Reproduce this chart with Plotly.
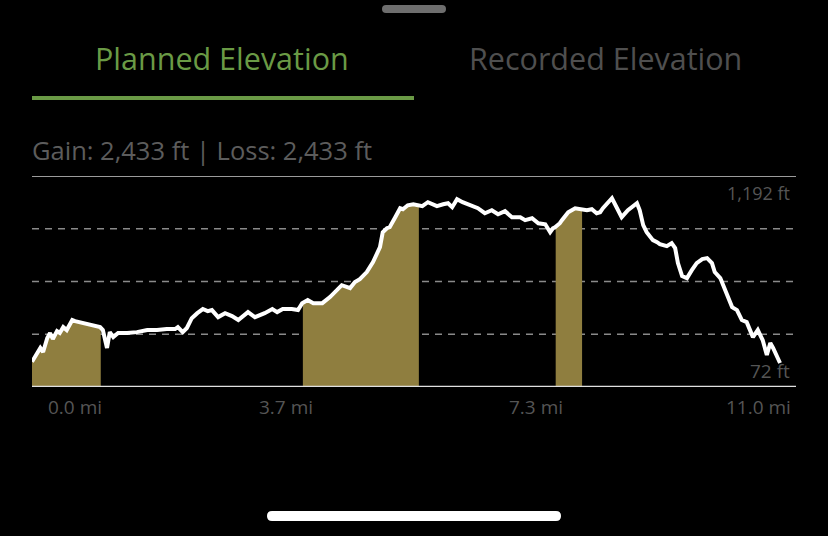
import numpy as np
import plotly.graph_objects as go

# ---------------- data ----------------
distance_mi = [
    0.00, 0.04, 0.12, 0.16, 0.22, 0.26, 0.30, 0.36, 0.40, 0.45, 0.50, 0.58, 0.62, 0.98,
    1.02, 1.08, 1.12, 1.17, 1.24, 1.37, 1.51, 1.66, 1.80, 1.94, 2.06, 2.10, 2.17, 2.23,
    2.30, 2.38, 2.46, 2.53, 2.59, 2.68, 2.78, 2.88, 2.97, 3.11, 3.21, 3.35, 3.46, 3.53,
    3.61, 3.74, 3.83, 3.89, 3.97, 4.05, 4.18, 4.29, 4.39, 4.46, 4.54, 4.58, 4.65, 4.72,
    4.82, 4.91, 5.01, 5.05, 5.11, 5.15, 5.23, 5.30, 5.34, 5.41, 5.49, 5.54, 5.62, 5.70,
    5.83, 5.92, 5.99, 6.05, 6.12, 6.20, 6.31, 6.42, 6.52, 6.62, 6.71, 6.81, 6.91, 7.03,
    7.10, 7.20, 7.29, 7.39, 7.46, 7.50, 7.53, 7.60, 7.63, 7.72, 7.82, 7.92, 7.99, 8.06,
    8.13, 8.18, 8.22, 8.35, 8.42, 8.49, 8.58, 8.71, 8.75, 8.80, 8.85, 8.94, 9.00, 9.04,
    9.14, 9.21, 9.26, 9.30, 9.36, 9.43, 9.50, 9.57, 9.65, 9.72, 9.79, 9.83, 9.91, 10.01,
    10.08, 10.15, 10.22, 10.29, 10.38, 10.45, 10.52, 10.58, 10.63, 10.67, 10.77,
]
elevation_ft = [
    80, 113, 174, 147, 242, 276, 235, 289, 276, 316, 296, 364, 357, 316,
    296, 174, 282, 248, 276, 276, 282, 296, 296, 303, 303, 316, 282, 310,
    377, 411, 439, 425, 432, 384, 411, 391, 364, 418, 384, 411, 439, 418,
    439, 439, 432, 479, 500, 479, 479, 520, 568, 601, 588, 581, 622, 642,
    690, 758, 859, 961, 988, 995, 1063, 1124, 1117, 1144, 1151, 1144, 1138, 1165,
    1138, 1151, 1158, 1131, 1185, 1165, 1144, 1124, 1090, 1110, 1083, 1104, 1063, 1063,
    1043, 1056, 1022, 1015, 961, 988, 995, 1022, 1043, 1097, 1124, 1117, 1110, 1117,
    1090, 1097, 1124, 1192, 1124, 1063, 1110, 1158, 1110, 1009, 961, 907, 893, 880,
    866, 887, 853, 751, 663, 649, 703, 751, 778, 785, 751, 690, 649, 534,
    452, 432, 364, 350, 248, 296, 228, 126, 208, 174, 72,
]
highlight_start_mi = [0.00, 3.90, 7.54]
highlight_end_mi = [0.99, 5.57, 7.92]

x_tick_values = [0.0, 3.7, 7.3, 11.0]
x_tick_labels = ["0.0 mi", "3.7 mi", "7.3 mi", "11.0 mi"]
elev_max_label = "1,192 ft"
elev_min_label = "72 ft"
tab_labels = ["Planned Elevation", "Recorded Elevation"]
summary_text = "Gain: 2,433 ft | Loss: 2,433 ft"

# ---------------- styling ----------------
W, H = 828, 536
FONT = "Open Sans"
GREEN = "#6a9a45"
OLIVE = "#8f7e3f"
GREY_TXT = "#555555"

X_RANGE = [0.0, 11.0]
Y_RANGE = [-91.0, 1343.0]


def px(x):
    return x / W


def py(y):
    return 1 - y / H


d = np.array(distance_mi, dtype=float)
e = np.array(elevation_ft, dtype=float)

fig = go.Figure()

# highlighted (filled) sections
for a, b in zip(highlight_start_mi, highlight_end_mi):
    inside = (d > a) & (d < b)
    xs = np.concatenate([[a], d[inside], [b]])
    ys = np.interp(xs, d, e)
    poly_x = np.concatenate([xs, [b, a, a]])
    poly_y = np.concatenate([ys, [Y_RANGE[0], Y_RANGE[0], ys[0]]])
    fig.add_trace(go.Scatter(x=poly_x, y=poly_y, mode="lines", fill="toself",
                             fillcolor=OLIVE, line=dict(width=0, color=OLIVE),
                             hoverinfo="skip", showlegend=False))

# elevation profile line
fig.add_trace(go.Scatter(x=d, y=e, mode="lines",
                         line=dict(color="white", width=4, shape="linear"),
                         showlegend=False, hoverinfo="skip"))

shapes = []
# dashed gridlines at quarters of the axis
span = Y_RANGE[1] - Y_RANGE[0]
for k in (1, 2, 3):
    yv = Y_RANGE[0] + span * k / 4
    shapes.append(dict(type="line", xref="x", yref="y", x0=X_RANGE[0], x1=X_RANGE[1],
                       y0=yv, y1=yv, line=dict(color="#8a8a8a", width=1.6, dash="7px,6px"),
                       layer="below"))
# top & bottom solid lines
shapes.append(dict(type="line", xref="x", yref="y", x0=X_RANGE[0], x1=X_RANGE[1],
                   y0=Y_RANGE[1], y1=Y_RANGE[1], line=dict(color="#cfcfcf", width=1.5)))
shapes.append(dict(type="line", xref="x", yref="y", x0=X_RANGE[0], x1=X_RANGE[1],
                   y0=Y_RANGE[0], y1=Y_RANGE[0], line=dict(color="#e0e0e0", width=2.5)))

# tab underline
shapes.append(dict(type="rect", xref="paper", yref="paper", x0=px(32), x1=px(414),
                   y0=py(100), y1=py(96), fillcolor=GREEN, line=dict(width=0)))


def rounded_bar(x0, x1, y0, y1, color):
    r = (y1 - y0) / 2
    path = (f"M {px(x0 + r)},{py(y0)} L {px(x1 - r)},{py(y0)} "
            f"Q {px(x1)},{py(y0)} {px(x1)},{py((y0 + y1) / 2)} "
            f"Q {px(x1)},{py(y1)} {px(x1 - r)},{py(y1)} "
            f"L {px(x0 + r)},{py(y1)} "
            f"Q {px(x0)},{py(y1)} {px(x0)},{py((y0 + y1) / 2)} "
            f"Q {px(x0)},{py(y0)} {px(x0 + r)},{py(y0)} Z")
    return dict(type="path", xref="paper", yref="paper", path=path,
                fillcolor=color, line=dict(width=0))


shapes.append(rounded_bar(382, 446, 5, 13, "#6e6e6e"))
shapes.append(rounded_bar(267, 561, 511, 521, "#ffffff"))

annotations = [
    dict(text=tab_labels[0], x=px(222), y=py(58), xref="paper", yref="paper",
         showarrow=False, font=dict(family=FONT, size=30.5, color=GREEN),
         xanchor="center", yanchor="middle"),
    dict(text=tab_labels[1], x=px(605), y=py(58), xref="paper", yref="paper",
         showarrow=False, font=dict(family=FONT, size=30.5, color="#4f4f4f"),
         xanchor="center", yanchor="middle"),
    dict(text=summary_text, x=px(30), y=py(150), xref="paper", yref="paper",
         showarrow=False, font=dict(family=FONT, size=25.5, color="#5c5c5c"),
         xanchor="left", yanchor="middle"),
    dict(text=elev_max_label, x=X_RANGE[1], y=max(elevation_ft), xref="x", yref="y",
         xshift=-4, yshift=5, showarrow=False,
         font=dict(family=FONT, size=18, color=GREY_TXT), xanchor="right", yanchor="middle"),
    dict(text=elev_min_label, x=X_RANGE[1], y=min(elevation_ft), xref="x", yref="y",
         xshift=-4, yshift=-8, showarrow=False,
         font=dict(family=FONT, size=19, color=GREY_TXT), xanchor="right", yanchor="middle"),
]
for i, (v, lab) in enumerate(zip(x_tick_values, x_tick_labels)):
    if i == 0:
        anchor, shift = "left", 14
    elif i == len(x_tick_values) - 1:
        anchor, shift = "right", -3
    else:
        anchor, shift = "center", -3
    annotations.append(dict(text=lab, x=v, y=Y_RANGE[0], xref="x", yref="y",
                            yshift=-20, xshift=shift, showarrow=False,
                            font=dict(family=FONT, size=19, color=GREY_TXT),
                            xanchor=anchor, yanchor="middle"))

fig.update_layout(
    width=W, height=H, autosize=False,
    margin=dict(l=0, r=0, t=0, b=0),
    paper_bgcolor="black", plot_bgcolor="black",
    xaxis=dict(range=X_RANGE, domain=[px(32), px(796)], showgrid=False, zeroline=False,
               showticklabels=False, showline=False, fixedrange=True),
    yaxis=dict(range=Y_RANGE, domain=[py(387), py(176)], showgrid=False, zeroline=False,
               showticklabels=False, showline=False, fixedrange=True),
    shapes=shapes, annotations=annotations, showlegend=False,
)

fig.write_html(
    "out.html",
    config={"displayModeBar": False},
    post_script="document.body.style.margin='0';document.body.style.overflow='hidden';"
                "document.body.style.background='black';",
)
